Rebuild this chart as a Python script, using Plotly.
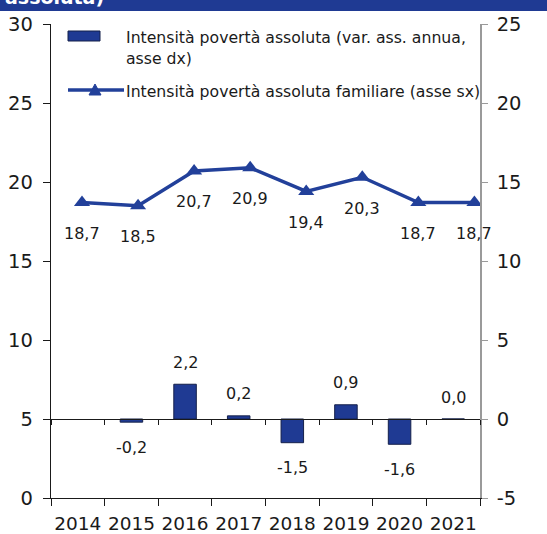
import plotly.graph_objects as go

# Data
years = ["2014", "2015", "2016", "2017", "2018", "2019", "2020", "2021"]
var_annua = [None, -0.2, 2.2, 0.2, -1.5, 0.9, -1.6, 0.0]          # asse dx
intensita_fam = [18.7, 18.5, 20.7, 20.9, 19.4, 20.3, 18.7, 18.7]  # asse sx
left_ticks = [0, 5, 10, 15, 20, 25, 30]
right_ticks = [-5, 0, 5, 10, 15, 20, 25]

name_bar = "Intensità povertà assoluta (var. ass. annua,"
name_bar2 = "asse dx)"
name_line = "Intensità povertà assoluta familiare (asse sx)"
title_tail = "assoluta)"

BLUE = "#1f3a93"
LINE_BLUE = "#22409a"
FONT = "DejaVu Sans, Arial, sans-serif"
TXT = "#1a1a1a"

W, H = 547, 534
ML, MR, MT, MB = 51, 67, 24, 36
PW, PH = W - ML - MR, H - MT - MB


def px(x):
    return (x - ML) / PW


def py(y):
    return (H - MB - y) / PH


def fmt(v):
    return f"{v:.1f}".replace(".", ",")


idx = list(range(len(years)))
boundaries = [i - 0.5 for i in range(len(years) + 1)]

fig = go.Figure()

# bars: annual change, right scale
fig.add_trace(go.Bar(
    x=idx, y=var_annua, xaxis="x", yaxis="y",
    marker=dict(color=BLUE, line=dict(color="#15204a", width=1)),
    width=0.42, showlegend=False, hoverinfo="skip",
))

# line: family intensity, left scale
fig.add_trace(go.Scatter(
    x=idx, y=intensita_fam, xaxis="x2", yaxis="y2",
    mode="lines+markers",
    line=dict(color=LINE_BLUE, width=3.5),
    marker=dict(symbol="triangle-up", size=14, color=LINE_BLUE),
    showlegend=False, hoverinfo="skip",
))

# empty traces carrying the tick-only axes so they are drawn
fig.add_trace(go.Scatter(
    x=idx, y=[None] * len(idx), xaxis="x3", yaxis="y",
    mode="markers", showlegend=False, hoverinfo="skip",
))
fig.add_trace(go.Scatter(
    x=idx, y=[None] * len(idx), xaxis="x4", yaxis="y",
    mode="markers", showlegend=False, hoverinfo="skip",
))

annotations = []
for i, v in zip(idx, var_annua):
    if v is None:
        continue
    annotations.append(dict(
        x=i, y=v, xref="x", yref="y", showarrow=False, text=fmt(v),
        yshift=22 if v >= 0 else -25,
        font=dict(family=FONT, size=16, color=TXT),
    ))
for i, v in zip(idx, intensita_fam):
    annotations.append(dict(
        x=i, y=v, xref="x2", yref="y2", showarrow=False, text=fmt(v),
        yshift=-31,
        font=dict(family=FONT, size=16, color=TXT),
    ))

# legend text
leg_font = dict(family=FONT, size=15.7, color=TXT)
annotations += [
    dict(x=px(124), y=py(37), xref="paper", yref="paper", text=name_bar,
         showarrow=False, xanchor="left", yanchor="middle", font=leg_font),
    dict(x=px(124), y=py(58), xref="paper", yref="paper", text=name_bar2,
         showarrow=False, xanchor="left", yanchor="middle", font=leg_font),
    dict(x=px(124), y=py(91), xref="paper", yref="paper", text=name_line,
         showarrow=False, xanchor="left", yanchor="middle", font=leg_font),
]
# title strip text (its upper part runs past the top of the page)
annotations.append(dict(
    x=px(3), y=py(10), xref="paper", yref="paper", text=f"<b>{title_tail}</b>",
    showarrow=False, xanchor="left", yanchor="bottom",
    font=dict(family=FONT, size=19, color="white"),
))

shapes = [
    dict(type="rect", xref="paper", yref="paper", x0=px(0), x1=px(W),
         y0=py(11), y1=py(0), fillcolor=BLUE, line=dict(width=0)),
    dict(type="rect", xref="paper", yref="paper", x0=px(68), x1=px(100),
         y0=py(41), y1=py(31), fillcolor=BLUE, line=dict(color="#15204a", width=1)),
    dict(type="line", xref="paper", yref="paper", x0=px(68), x1=px(124),
         y0=py(90), y1=py(90), line=dict(color=LINE_BLUE, width=3.5)),
    dict(type="path", xref="paper", yref="paper",
         path=f"M {px(89)} {py(95)} L {px(101)} {py(95)} L {px(95)} {py(84)} Z",
         fillcolor=LINE_BLUE, line=dict(color=LINE_BLUE, width=1)),
]

zero_pos = (0 - right_ticks[0]) / (right_ticks[-1] - right_ticks[0])
x_range = [boundaries[0], boundaries[-1]]

fig.update_layout(
    width=W, height=H,
    margin=dict(l=ML, r=MR, t=MT, b=MB, pad=0),
    paper_bgcolor="white", plot_bgcolor="white",
    font=dict(family=FONT, size=18, color=TXT),
    xaxis=dict(
        range=x_range, tickmode="array", tickvals=idx, ticktext=years,
        ticks="", tickangle=0, showline=True, linecolor=TXT, linewidth=1.3,
        showgrid=False, zeroline=False, anchor="y", automargin=False,
        ticklabelstandoff=9,
        tickfont=dict(family=FONT, size=18.5, color=TXT),
    ),
    xaxis2=dict(range=[-0.553, 7.1], overlaying="x", visible=False, anchor="y2"),
    # boundary ticks on the bottom axis line
    xaxis4=dict(
        range=x_range, tickmode="array", tickvals=boundaries,
        ticks="outside", ticklen=7, tickcolor=TXT, showticklabels=False,
        showline=False, showgrid=False, zeroline=False,
        overlaying="x", anchor="y", automargin=False,
    ),
    # category axis through zero of the right scale
    xaxis3=dict(
        range=x_range, tickmode="array", tickvals=boundaries,
        ticks="outside", ticklen=5, tickcolor=TXT,
        showline=True, linecolor=TXT, linewidth=1.3,
        showticklabels=False, showgrid=False, zeroline=False,
        overlaying="x", anchor="free", position=zero_pos, automargin=False,
    ),
    yaxis=dict(
        side="right", range=[right_ticks[0], right_ticks[-1]],
        tickmode="array", tickvals=right_ticks, ticktext=[str(t) for t in right_ticks],
        ticks="outside", ticklen=6, tickcolor="#9a9a9a",
        showline=True, linecolor="#9a9a9a", linewidth=1.5,
        showgrid=False, zeroline=False, ticklabelstandoff=5, automargin=False,
        tickfont=dict(family=FONT, size=19.5, color=TXT),
    ),
    yaxis2=dict(
        side="left", overlaying="y", range=[left_ticks[0], left_ticks[-1]],
        tickmode="array", tickvals=left_ticks, ticktext=[str(t) for t in left_ticks],
        ticks="outside", ticklen=7, tickcolor=TXT,
        showline=True, linecolor=TXT, linewidth=1.3,
        showgrid=False, zeroline=False, ticklabelstandoff=6, automargin=False,
        tickfont=dict(family=FONT, size=19.5, color=TXT),
    ),
    annotations=annotations,
    shapes=shapes,
)

fig.write_html("out.html")
